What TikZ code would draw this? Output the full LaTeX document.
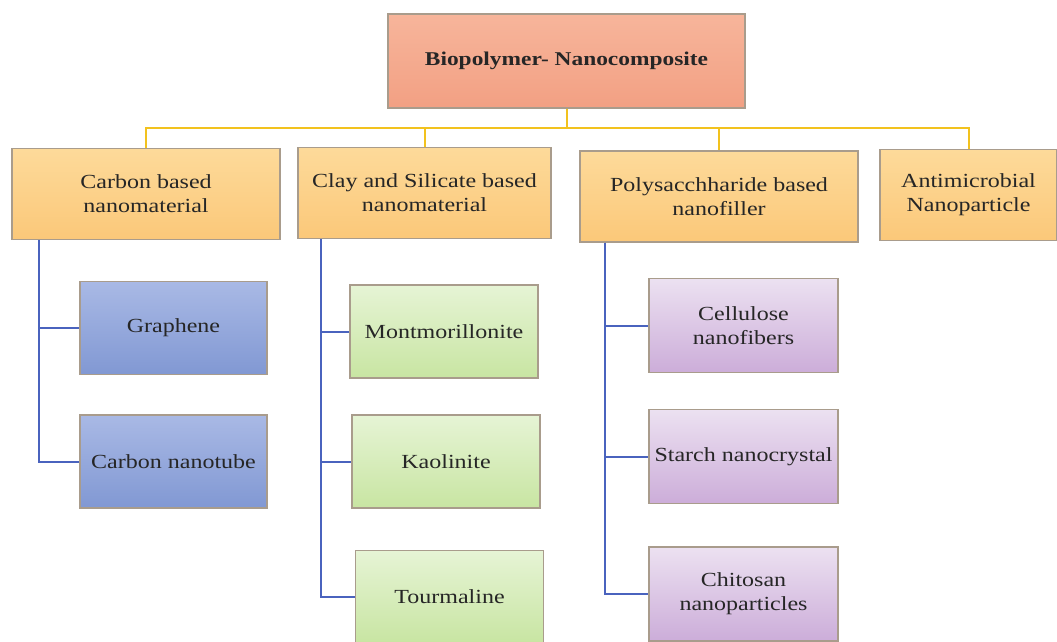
\documentclass[tikz,border=0pt]{standalone}
\usepackage{fontspec}
\setmainfont[FakeStretch=1.2]{Liberation Serif}
\usepackage{xcolor}
\usetikzlibrary{positioning}

\definecolor{rootTop}{HTML}{F7B59B}
\definecolor{rootBot}{HTML}{F2A083}
\definecolor{catTop}{HTML}{FDDA9A}
\definecolor{catBot}{HTML}{FBC879}
\definecolor{blueTop}{HTML}{A9B9E5}
\definecolor{blueBot}{HTML}{8198D3}
\definecolor{greenTop}{HTML}{E6F4D5}
\definecolor{greenBot}{HTML}{C8E5A2}
\definecolor{purpTop}{HTML}{ECE1F1}
\definecolor{purpBot}{HTML}{CCADD9}
\definecolor{busYellow}{HTML}{F2C21E}
\definecolor{branchBlue}{HTML}{4A63BE}
\definecolor{boxEdge}{HTML}{A99C8C}

\begin{document}
\begin{tikzpicture}[
    x=1pt, y=-1pt,
    font=\fontsize{20}{24}\selectfont,
    box/.style={
        rectangle, draw=boxEdge, line width=1.2pt,
        align=center, text=black!85, inner sep=2pt
    },
    rootbox/.style={
        box, top color=rootTop, bottom color=rootBot,
        minimum width=357pt, minimum height=94pt,
        font=\fontsize{19.5}{23}\selectfont\bfseries
    },
    category/.style={
        box, top color=catTop, bottom color=catBot,
        minimum height=91pt
    },
    carbonitem/.style={
        box, top color=blueTop, bottom color=blueBot,
        minimum width=187pt, minimum height=93pt
    },
    clayitem/.style={
        box, top color=greenTop, bottom color=greenBot,
        minimum width=188pt, minimum height=93pt
    },
    polyitem/.style={
        box, top color=purpTop, bottom color=purpBot,
        minimum width=189pt, minimum height=94pt
    },
    bus/.style={draw=busYellow, line width=2pt},
    branch/.style={draw=branchBlue, line width=2pt},
]

\useasboundingbox (0,0) rectangle (1057,641);
\clip (0,0) rectangle (1057,641);

% ---------- Root ----------
\node[rootbox] (root) at (566.5,61) {Biopolymer- Nanocomposite};

% ---------- Categories ----------
\node[category, minimum width=268pt] (carbon) at (146,194) {Carbon based\\nanomaterial};
\node[category, minimum width=253pt] (clay) at (424.5,193) {Clay and Silicate based\\nanomaterial};
\node[category, minimum width=278pt] (poly) at (719,196.5) {Polysacchharide based\\nanofiller};
\node[category, minimum width=177pt] (anti) at (968.5,195) {Antimicrobial\\Nanoparticle};

% ---------- Carbon based items ----------
\node[carbonitem] (graphene) at (173.5,328) {Graphene};
\node[carbonitem] (cnt) at (173.5,461.5) {Carbon nanotube};

% ---------- Clay and silicate items ----------
\node[clayitem] (mont) at (444,331.5) {Montmorillonite};
\node[clayitem] (kaol) at (446,461.5) {Kaolinite};
\node[clayitem] (tour) at (449.5,597) {Tourmaline};

% ---------- Polysaccharide items ----------
\node[polyitem] (cell) at (743.5,325.5) {Cellulose\\nanofibers};
\node[polyitem] (starch) at (743.5,456.5) {Starch nanocrystal};
\node[polyitem] (chit) at (743.5,594) {Chitosan\\nanoparticles};

% ---------- Connectors ----------
\draw[bus] (root.south) -- ++(0,19) -| (carbon.north);
\draw[bus] (root.south) -- ++(0,19) -| (clay.north);
\draw[bus] (root.south) -- ++(0,19) -| (poly.north);
\draw[bus] (root.south) -- ++(0,19) -| (anti.north);

\draw[branch] (carbon.south west) ++(28,0) |- (graphene.west);
\draw[branch] (carbon.south west) ++(28,0) |- (cnt.west);

\draw[branch] (clay.south west) ++(24,0) |- (mont.west);
\draw[branch] (clay.south west) ++(24,0) |- (kaol.west);
\draw[branch] (clay.south west) ++(24,0) |- (tour.west);

\draw[branch] (poly.south west) ++(26,0) |- (cell.west);
\draw[branch] (poly.south west) ++(26,0) |- (starch.west);
\draw[branch] (poly.south west) ++(26,0) |- (chit.west);

\end{tikzpicture}
\end{document}
